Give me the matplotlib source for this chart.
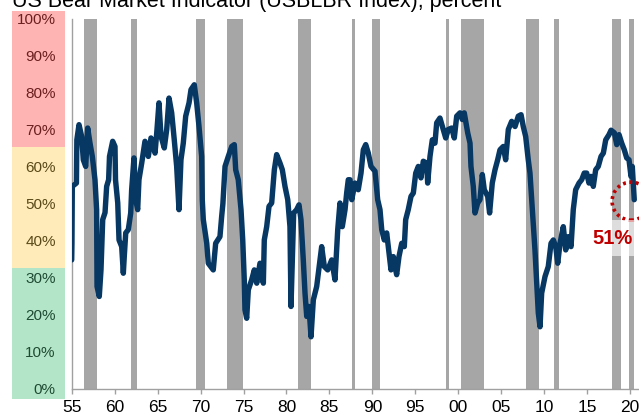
import matplotlib
matplotlib.use("Agg")
import matplotlib.pyplot as plt
from matplotlib.patches import Ellipse, Rectangle
from matplotlib.transforms import blended_transform_factory

plt.rcParams["font.family"] = ["Liberation Sans", "DejaVu Sans"]

# bear market indicator (year, percent)
years = [
    1955.00, 1955.03, 1955.07, 1955.55, 1955.60, 1955.85, 1956.16, 1956.35, 1956.63, 1956.86,
    1957.13, 1957.40, 1957.71, 1957.90, 1957.95, 1958.21, 1958.41, 1958.61, 1958.88, 1959.07,
    1959.30, 1959.40, 1959.77, 1960.04, 1960.10, 1960.36, 1960.51, 1960.82, 1961.01, 1961.12,
    1961.29, 1961.59, 1961.87, 1961.98, 1962.25, 1962.45, 1962.68, 1962.83, 1963.15, 1963.53,
    1963.92, 1964.23, 1964.70, 1964.90, 1965.16, 1965.40, 1965.78, 1966.06, 1966.33, 1966.64,
    1966.94, 1967.22, 1967.49, 1967.72, 1967.99, 1968.27, 1968.66, 1968.89, 1969.27, 1969.55,
    1969.82, 1970.13, 1970.20, 1970.32, 1970.72, 1970.90, 1971.48, 1971.76, 1972.26, 1972.46,
    1972.60, 1972.85, 1973.23, 1973.63, 1973.93, 1974.09, 1974.39, 1974.71, 1974.91, 1975.09,
    1975.17, 1975.37, 1975.56, 1975.95, 1976.26, 1976.54, 1976.92, 1977.31, 1977.42, 1977.70,
    1977.97, 1978.28, 1978.59, 1978.86, 1979.25, 1979.52, 1979.83, 1980.15, 1980.41, 1980.53,
    1980.68, 1980.84, 1981.19, 1981.46, 1981.69, 1981.96, 1982.16, 1982.36, 1982.62, 1982.86,
    1983.13, 1983.52, 1984.10, 1984.41, 1984.80, 1985.27, 1985.65, 1985.97, 1986.23, 1986.50,
    1986.82, 1987.01, 1987.20, 1987.40, 1987.60, 1987.98, 1988.36, 1988.68, 1988.95, 1989.23,
    1989.53, 1989.84, 1990.31, 1990.62, 1990.89, 1991.09, 1991.39, 1991.67, 1991.94, 1992.17,
    1992.44, 1992.64, 1992.83, 1993.10, 1993.42, 1993.72, 1993.88, 1994.18, 1994.50, 1994.77,
    1995.05, 1995.35, 1995.66, 1995.93, 1996.33, 1996.44, 1996.71, 1996.98, 1997.29, 1997.49,
    1997.87, 1998.26, 1998.54, 1998.84, 1999.24, 1999.54, 1999.82, 2000.20, 2000.47, 2000.70,
    2001.10, 2001.37, 2001.48, 2001.75, 2001.95, 2002.26, 2002.53, 2002.80, 2003.03, 2003.43,
    2003.65, 2003.96, 2004.28, 2004.59, 2004.86, 2005.24, 2005.52, 2005.83, 2006.22, 2006.61,
    2006.99, 2007.31, 2007.57, 2007.85, 2008.15, 2008.35, 2008.55, 2008.74, 2008.93, 2009.13,
    2009.32, 2009.52, 2009.71, 2010.10, 2010.48, 2010.80, 2011.07, 2011.35, 2011.58, 2011.85,
    2012.23, 2012.51, 2012.82, 2013.13, 2013.39, 2013.67, 2014.06, 2014.37, 2014.67, 2014.95,
    2015.22, 2015.45, 2015.72, 2016.00, 2016.30, 2016.62, 2016.89, 2017.17, 2017.55, 2017.79,
    2018.17, 2018.45, 2018.72, 2019.03, 2019.33, 2019.61, 2019.88, 2020.11, 2020.26, 2020.49,
]
values = [
    34.8, 39.3, 54.7, 55.6, 67.3, 71.4, 68.2, 61.9, 60.1, 70.5,
    66.4, 62.8, 56.5, 48.4, 27.6, 24.9, 32.1, 45.7, 47.6, 54.7,
    56.5, 62.8, 66.9, 65.5, 56.5, 50.2, 40.2, 38.4, 31.2, 35.7,
    42.1, 43.0, 47.5, 53.8, 62.4, 51.1, 48.4, 56.5, 61.0, 66.9,
    62.8, 67.8, 63.7, 69.2, 77.3, 68.2, 65.1, 70.1, 78.6, 74.6,
    67.3, 60.1, 48.4, 61.9, 66.4, 73.7, 77.3, 80.9, 82.2, 77.3,
    70.9, 62.8, 51.1, 45.7, 39.3, 33.9, 32.1, 39.3, 41.1, 46.6,
    50.0, 60.1, 62.8, 65.5, 66.0, 59.2, 56.5, 48.4, 40.2, 29.4,
    21.3, 19.0, 26.7, 29.4, 32.1, 28.5, 33.9, 28.5, 40.2, 43.8,
    49.3, 50.2, 59.2, 63.3, 61.0, 59.2, 54.7, 51.1, 43.8, 22.2,
    34.8, 47.5, 48.4, 49.7, 45.7, 34.8, 25.8, 19.5, 22.2, 14.0,
    24.0, 27.6, 38.4, 33.0, 32.1, 34.8, 29.4, 43.0, 50.2, 43.8,
    48.4, 52.9, 56.5, 56.5, 51.1, 55.6, 53.8, 58.3, 64.6, 66.0,
    63.7, 60.1, 58.8, 51.1, 48.4, 43.0, 40.2, 42.1, 36.6, 32.1,
    35.7, 33.0, 30.8, 35.7, 39.3, 38.4, 45.7, 48.4, 52.0, 52.9,
    58.3, 60.1, 57.0, 61.5, 61.0, 55.6, 62.8, 67.3, 66.4, 71.9,
    73.2, 70.1, 67.8, 70.1, 70.5, 67.8, 73.7, 74.6, 72.8, 74.6,
    69.2, 66.4, 60.1, 54.7, 47.5, 50.2, 51.1, 57.9, 53.8, 52.0,
    47.5, 55.6, 59.2, 61.9, 64.6, 65.5, 61.9, 70.1, 72.3, 70.9,
    73.7, 74.1, 70.9, 68.2, 61.9, 58.3, 51.1, 43.8, 37.5, 28.5,
    20.4, 16.7, 25.8, 30.3, 33.0, 39.3, 40.2, 38.4, 33.9, 39.3,
    43.8, 37.5, 41.1, 38.4, 48.4, 53.8, 55.6, 56.5, 58.3, 58.3,
    55.6, 57.4, 54.7, 59.2, 60.1, 62.8, 63.7, 67.3, 68.7, 69.9,
    69.2, 66.0, 68.7, 66.4, 64.6, 62.4, 61.9, 57.4, 60.1, 51.1,
]

# shaded periods (start, end)
shade_start = [1956.43, 1961.90, 1969.47, 1973.08, 1981.31, 1987.60, 1989.96,
               1998.58, 2000.33, 2007.90, 2011.12, 2017.91, 2019.89]
shade_end = [1957.91, 1962.60, 1970.48, 1974.94, 1982.82, 1987.98, 1990.86,
             1998.96, 2003.01, 2009.38, 2011.70, 2018.92, 2020.47]

# colour zones on the left
zone_lo = [-2.8, 32.6, 65.4]
zone_hi = [32.6, 65.4, 102.2]
zone_fill = ["#B3E6C8", "#FFEAB9", "#FFB4B4"]
zone_text = ["#1F4A33", "#5A4A1A", "#6B1F1F"]

y_ticks = [0, 10, 20, 30, 40, 50, 60, 70, 80, 90, 100]
x_ticks = list(range(1955, 2021, 5))
x_labels = ["55", "60", "65", "70", "75", "80", "85", "90", "95", "00", "05", "10", "15", "20"]

last_value = 51
circle_center = (2020.12, 50.7)


def main():
    fig = plt.figure(figsize=(6.39, 4.18), dpi=100)
    ax = fig.add_axes([71.7 / 639, 29.5 / 418, 567.3 / 639, 369.5 / 418])
    ax.set_xlim(1955, 1955 + 567.3 / 8.59)
    ax.set_ylim(0, 100)

    for s, e in zip(shade_start, shade_end):
        ax.axvspan(s, e, color="#A6A6A6", lw=0, zorder=1)

    ax.plot(years, values, color="#073763", lw=3.9, solid_joinstyle="round",
            solid_capstyle="round", zorder=3)

    # dotted circle around the latest reading
    ax.add_patch(Ellipse(circle_center, 38 / 8.59, 38 / 3.695, fill=False,
                         edgecolor="#C00000", lw=2.6, linestyle=(0, (0.8, 1.0)),
                         zorder=4, clip_on=False))
    ax.add_patch(Rectangle((2017.0, 35.9), 6, 9.7, facecolor="white", alpha=0.62,
                           lw=0, zorder=5, clip_on=False))
    ax.text(2018.0, 40.7, f"{last_value}%", color="#C00000", fontsize=14.5,
            fontweight="bold", ha="center", va="center", zorder=6)

    # zones drawn in figure x / data y
    trans = blended_transform_factory(fig.transFigure, ax.transData)
    for lo, hi, c in zip(zone_lo, zone_hi, zone_fill):
        ax.add_patch(Rectangle((12 / 639, lo), 53 / 639, hi - lo, transform=trans,
                               facecolor=c, lw=0, clip_on=False, zorder=0))

    ax.set_yticks(y_ticks)
    ax.set_yticklabels([f"{t}%" for t in y_ticks])
    for lab, t in zip(ax.get_yticklabels(), y_ticks):
        for lo, hi, tc in zip(zone_lo, zone_hi, zone_text):
            if lo <= t < hi:
                lab.set_color(tc)
    ax.tick_params(axis="y", length=0, pad=11.5, labelsize=11)

    ax.set_xticks(x_ticks)
    ax.set_xticklabels(x_labels)
    ax.tick_params(axis="x", length=3.6, width=1, color="#A0A0A0", pad=5,
                   labelsize=12.5)

    for side in ["top", "right"]:
        ax.spines[side].set_visible(False)
    for side in ["left", "bottom"]:
        ax.spines[side].set_color("#A0A0A0")
        ax.spines[side].set_linewidth(1)

    fig.text(12 / 639, 1 - 7.5 / 418,
             "US Bear Market Indicator (USBLBR Index), percent",
             fontsize=15.5, ha="left", va="baseline")

    fig.savefig("out.png", dpi=100)


if __name__ == "__main__":
    main()
